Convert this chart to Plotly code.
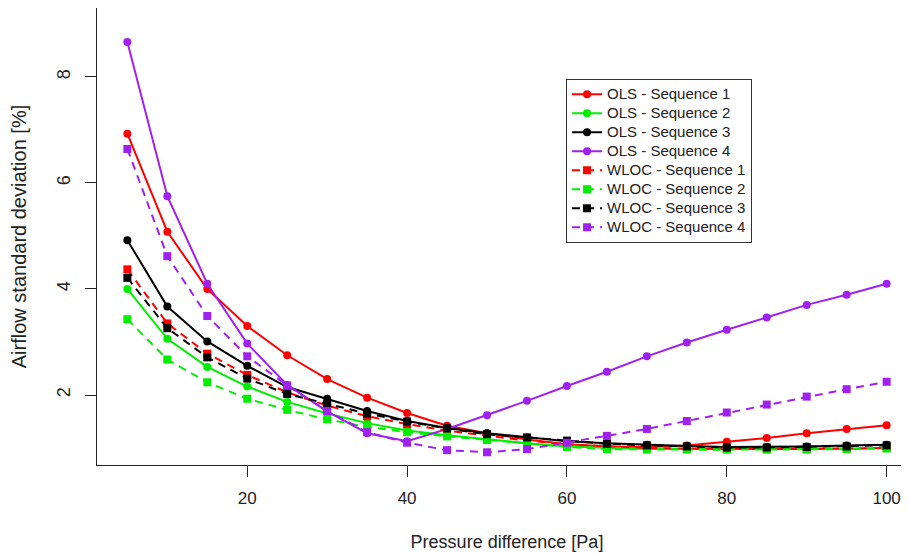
import plotly.graph_objects as go

pressure = [5, 10, 15, 20, 25, 30, 35, 40, 45, 50, 55, 60, 65, 70, 75, 80, 85, 90, 95, 100]

ols_seq1 = [6.93, 5.08, 4.00, 3.30, 2.75, 2.30, 1.95, 1.66, 1.42, 1.28, 1.16, 1.07, 1.03, 1.02, 1.05, 1.12, 1.19, 1.28, 1.36, 1.43]
ols_seq2 = [4.00, 3.06, 2.53, 2.16, 1.87, 1.65, 1.47, 1.33, 1.24, 1.16, 1.09, 1.03, 1.00, 0.98, 0.98, 0.98, 0.98, 0.98, 0.99, 1.00]
ols_seq3 = [4.92, 3.67, 3.01, 2.55, 2.15, 1.93, 1.70, 1.51, 1.38, 1.28, 1.20, 1.13, 1.09, 1.06, 1.04, 1.02, 1.02, 1.03, 1.05, 1.06]
ols_seq4 = [8.66, 5.75, 4.10, 2.97, 2.19, 1.69, 1.28, 1.13, 1.36, 1.62, 1.89, 2.17, 2.44, 2.73, 2.99, 3.23, 3.46, 3.70, 3.89, 4.10]

wloc_seq1 = [4.37, 3.35, 2.78, 2.38, 2.05, 1.80, 1.60, 1.45, 1.33, 1.23, 1.14, 1.07, 1.03, 1.00, 0.99, 0.98, 0.98, 0.98, 0.99, 1.00]
wloc_seq2 = [3.43, 2.67, 2.24, 1.93, 1.72, 1.54, 1.40, 1.30, 1.22, 1.15, 1.09, 1.02, 0.98, 0.97, 0.97, 0.97, 0.97, 0.97, 0.98, 0.99]
wloc_seq3 = [4.21, 3.26, 2.71, 2.31, 2.02, 1.83, 1.65, 1.50, 1.37, 1.26, 1.20, 1.14, 1.08, 1.05, 1.03, 1.01, 1.01, 1.02, 1.03, 1.05]
wloc_seq4 = [6.64, 4.62, 3.49, 2.73, 2.18, 1.70, 1.30, 1.10, 0.96, 0.92, 0.98, 1.10, 1.23, 1.36, 1.51, 1.67, 1.82, 1.97, 2.11, 2.25]

series_names = ["OLS - Sequence 1", "OLS - Sequence 2", "OLS - Sequence 3", "OLS - Sequence 4",
                "WLOC - Sequence 1", "WLOC - Sequence 2", "WLOC - Sequence 3", "WLOC - Sequence 4"]
series_values = [ols_seq1, ols_seq2, ols_seq3, ols_seq4, wloc_seq1, wloc_seq2, wloc_seq3, wloc_seq4]
colors = ["#FF0000", "#00EE00", "#000000", "#A020F0"] * 2

x_ticks = [20, 40, 60, 80, 100]
y_ticks = [2, 4, 6, 8]

fig = go.Figure()
for i, (name, vals) in enumerate(zip(series_names, series_values)):
    is_wloc = i >= 4
    fig.add_trace(go.Scatter(
        x=pressure, y=vals, mode="lines+markers",
        name='<span style="font-size:15px">' + name + '</span>',
        line=dict(color=colors[i], width=2, dash="8px,6px" if is_wloc else "solid"),
        marker=dict(color=colors[i], size=8,
                    symbol="square" if is_wloc else "circle", line=dict(width=0)),
    ))

font = "Liberation Sans, Arial, sans-serif"
fig.update_layout(
    width=909, height=554,
    margin=dict(l=89, r=0, t=0, b=97),
    paper_bgcolor="white", plot_bgcolor="white",
    font=dict(family=font, size=16, color="#222222"),
    showlegend=True,
    legend=dict(x=0.572, y=0.845, xanchor="left", yanchor="top",
                bordercolor="#333333", borderwidth=1, bgcolor="white",
                font=dict(size=11, color="#222222"), tracegroupgap=0,
                itemwidth=30),
    xaxis=dict(range=[1.2, 103.8], tickvals=x_ticks, ticks="outside", ticklen=11,
               tickcolor="#222222", showline=True, linecolor="#222222", linewidth=1,
               mirror=True, showgrid=False, zeroline=False,
               tickfont=dict(size=17), ticklabelstandoff=7,
               title=dict(text="Pressure difference [Pa]", standoff=27, font=dict(size=18))),
    yaxis=dict(range=[0.68, 9.30], tickvals=y_ticks, ticks="outside", ticklen=11,
               tickcolor="#222222", showline=True, linecolor="#222222", linewidth=1,
               showgrid=False, zeroline=False, tickangle=-90,
               tickfont=dict(size=18), ticklabelstandoff=8,
               title=dict(text="Airflow standard deviation [%]", standoff=26, font=dict(size=20))),
)

fig.write_html("out.html")
